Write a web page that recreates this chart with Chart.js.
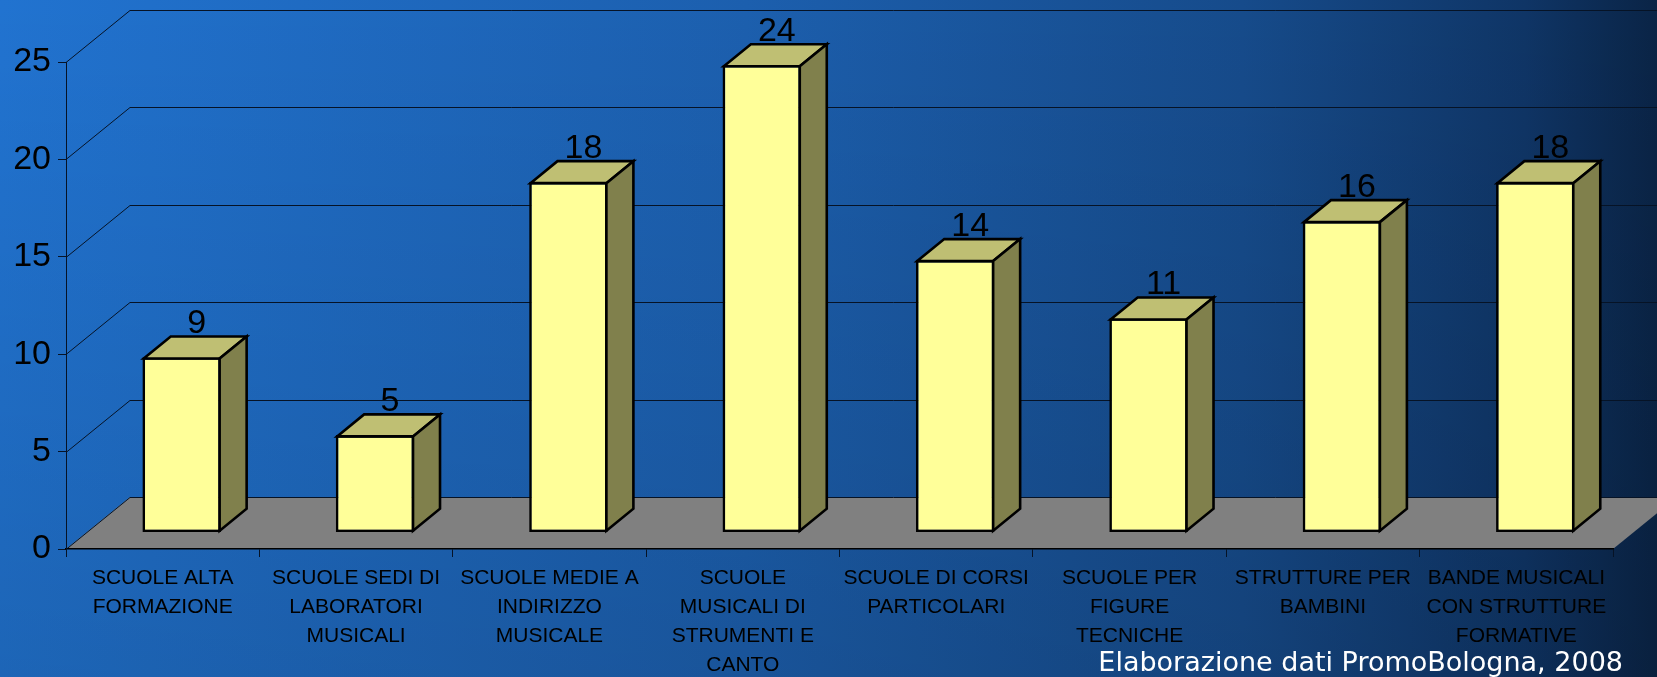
<!DOCTYPE html>
<html>
<head>
<meta charset="utf-8">
<title>Scuole e strutture musicali</title>
<script src="https://cdn.jsdelivr.net/npm/chart.js@4.4.1/dist/chart.umd.min.js"></script>
<style>
  html, body { margin: 0; padding: 0; overflow: hidden; background: #14467f; }
  #chart-bars { display: block; }
</style>
</head>
<body>
<canvas id="chart-bars" width="1657" height="677"></canvas>
<script>
/* data */
var categories = [
    ['SCUOLE ALTA', 'FORMAZIONE'],
    ['SCUOLE SEDI DI', 'LABORATORI', 'MUSICALI'],
    ['SCUOLE MEDIE A', 'INDIRIZZO', 'MUSICALE'],
    ['SCUOLE', 'MUSICALI DI', 'STRUMENTI E', 'CANTO'],
    ['SCUOLE DI CORSI', 'PARTICOLARI'],
    ['SCUOLE PER', 'FIGURE', 'TECNICHE'],
    ['STRUTTURE PER', 'BAMBINI'],
    ['BANDE MUSICALI', 'CON STRUTTURE', 'FORMATIVE']
];
var values = [9, 5, 18, 24, 14, 11, 16, 18];
var yTicks = [0, 5, 10, 15, 20, 25];
var sourceNote = 'Elaborazione dati PromoBologna, 2008';

/* fake 3D: wall depth, box offset from the front plane, box depth */
var wallDepth = { x: 64, y: -52 };
var barShift = { x: 19, y: -16.5 };
var barDepth = { x: 27, y: -22 };
var edge = 2.6;

var scene3d = {
    id: 'scene3d',
    beforeDraw: function (chart) {
        var ctx = chart.ctx;
        var area = chart.chartArea;
        var yScale = chart.scales.y;

        ctx.save();
        /* background */
        var bg = ctx.createLinearGradient(0, 0, chart.width, 0);
        bg.addColorStop(0, '#2173d0');
        bg.addColorStop(0.45, '#1c5fae');
        bg.addColorStop(0.75, '#164b8b');
        bg.addColorStop(0.92, '#0f3566');
        bg.addColorStop(1, '#0a2446');
        ctx.fillStyle = bg;
        ctx.fillRect(0, 0, chart.width, chart.height);
        var shade = ctx.createLinearGradient(0, 0, 0, chart.height);
        shade.addColorStop(0, 'rgba(0,0,0,0)');
        shade.addColorStop(1, 'rgba(0,0,0,0.12)');
        ctx.fillStyle = shade;
        ctx.fillRect(0, 0, chart.width, chart.height);

        /* floor */
        var y0 = yScale.getPixelForValue(0);
        ctx.beginPath();
        ctx.moveTo(area.left, y0);
        ctx.lineTo(area.right, y0);
        ctx.lineTo(area.right + wallDepth.x, y0 + wallDepth.y);
        ctx.lineTo(area.left + wallDepth.x, y0 + wallDepth.y);
        ctx.closePath();
        ctx.fillStyle = '#808080';
        ctx.fill();

        /* back wall grid */
        ctx.strokeStyle = '#061326';
        ctx.lineWidth = 1;
        yTicks.forEach(function (v) {
            var py = Math.round(yScale.getPixelForValue(v)) + 0.5;
            ctx.beginPath();
            ctx.moveTo(area.left, py);
            ctx.lineTo(area.left + wallDepth.x, py + wallDepth.y);
            ctx.lineTo(chart.width, py + wallDepth.y);
            ctx.stroke();
        });
        ctx.restore();
    },
    beforeDatasetsDraw: function (chart) {
        chart.ctx.save();
        chart.ctx.translate(barShift.x, barShift.y);
    },
    afterDatasetsDraw: function (chart) {
        var ctx = chart.ctx;
        var meta = chart.getDatasetMeta(0);
        ctx.lineWidth = edge;
        ctx.lineJoin = 'miter';
        ctx.strokeStyle = '#000';
        meta.data.forEach(function (bar, i) {
            var h = edge / 2;
            var L = bar.x - bar.width / 2 + h;
            var R = bar.x + bar.width / 2 - h;
            var T = bar.y + h;
            var B = bar.base - h;

            /* top face */
            ctx.beginPath();
            ctx.moveTo(L, T);
            ctx.lineTo(L + barDepth.x, T + barDepth.y);
            ctx.lineTo(R + barDepth.x, T + barDepth.y);
            ctx.lineTo(R, T);
            ctx.closePath();
            ctx.fillStyle = '#bfbf73';
            ctx.fill();
            ctx.stroke();

            /* side face */
            ctx.beginPath();
            ctx.moveTo(R, T);
            ctx.lineTo(R + barDepth.x, T + barDepth.y);
            ctx.lineTo(R + barDepth.x, B + barDepth.y);
            ctx.lineTo(R, B);
            ctx.closePath();
            ctx.fillStyle = '#80804c';
            ctx.fill();
            ctx.stroke();

            /* value label */
            ctx.fillStyle = '#000';
            ctx.font = '34px "Liberation Sans", Arial, sans-serif';
            ctx.textAlign = 'center';
            ctx.textBaseline = 'alphabetic';
            ctx.fillText(String(values[i]), bar.x + 15, bar.y - 24);
        });
        ctx.restore();
    },
    afterDraw: function (chart) {
        var ctx = chart.ctx;
        ctx.save();
        ctx.fillStyle = '#ffffff';
        ctx.font = '27px "DejaVu Sans", Verdana, sans-serif';
        ctx.textAlign = 'right';
        ctx.textBaseline = 'alphabetic';
        ctx.fillText(sourceNote, 1623, 671);
        ctx.restore();
    }
};

var barCanvas = document.getElementById('chart-bars').getContext('2d');
var barChart = new Chart(barCanvas, {
    type: 'bar',
    data: {
        labels: categories,
        datasets: [{
            data: values,
            backgroundColor: '#ffff99',
            borderColor: '#000',
            borderWidth: edge,
            borderSkipped: false,
            barPercentage: 0.406,
            categoryPercentage: 1,
            clip: false
        }]
    },
    options: {
        responsive: false,
        animation: false,
        events: [],
        layout: {
            padding: { top: 62, right: 44, left: 0, bottom: 0 }
        },
        plugins: {
            legend: { display: false },
            tooltip: { enabled: false }
        },
        scales: {
            x: {
                grid: { offset: true, drawOnChartArea: false, tickLength: 8, color: '#061326', lineWidth: 1 },
                border: { color: '#000', width: 1.5 },
                ticks: {
                    color: '#000',
                    font: { family: '"Liberation Sans", Arial, sans-serif', size: 21, lineHeight: 1.38 },
                    padding: 7,
                    autoSkip: false,
                    maxRotation: 0
                },
                afterFit: function (scale) { scale.height = 128; }
            },
            y: {
                min: 0,
                max: 25,
                grid: { drawOnChartArea: false, tickLength: 8, color: '#061326', lineWidth: 1 },
                border: { color: '#061326', width: 1 },
                ticks: {
                    stepSize: 5,
                    color: '#000',
                    font: { family: '"Liberation Sans", Arial, sans-serif', size: 34 },
                    padding: 7
                },
                afterFit: function (scale) { scale.width = 66; }
            }
        }
    },
    plugins: [scene3d]
});
</script>
</body>
</html>
